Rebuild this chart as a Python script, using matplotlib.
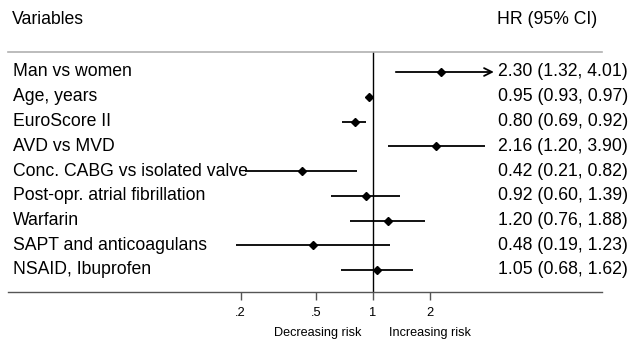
import numpy as np
import matplotlib
matplotlib.use("Agg")
import matplotlib.pyplot as plt

labels = ["Man vs women", "Age, years", "EuroScore II", "AVD vs MVD",
          "Conc. CABG vs isolated valve", "Post-opr. atrial fibrillation",
          "Warfarin", "SAPT and anticoagulans", "NSAID, Ibuprofen"]
hr = [2.30, 0.95, 0.80, 2.16, 0.42, 0.92, 1.20, 0.48, 1.05]
lo = [1.32, 0.93, 0.69, 1.20, 0.21, 0.60, 0.76, 0.19, 0.68]
hi = [4.01, 0.97, 0.92, 3.90, 0.82, 1.39, 1.88, 1.23, 1.62]
arrow_rows = [0]
arrow_limit = 4.35  # plotted range limit where truncated CIs get an arrow
xticks = [0.2, 0.5, 1, 2]
xticklabels = [".2", ".5", "1", "2"]

plt.rcParams['font.family'] = ['Liberation Sans', 'DejaVu Sans']

W, H = 630, 341
fig = plt.figure(figsize=(W / 100, H / 100), dpi=100)

# axes geometry in pixels
left_px, right_px = 8, 602
top_px, bot_px = 52, 292
ax = fig.add_axes([left_px / W, 1 - bot_px / H, (right_px - left_px) / W, (bot_px - top_px) / H])

px_per_ln = 82.2
x1_px = 373
xmin = np.exp((left_px - x1_px) / px_per_ln)
xmax = np.exp((right_px - x1_px) / px_per_ln)
ax.set_xscale('log')
ax.set_xlim(xmin, xmax)

row0_px, row_step = 72, 24.75
ymin = (top_px - row0_px) / row_step
ymax = (bot_px - row0_px) / row_step
ax.set_ylim(ymax, ymin)

n = len(labels)
ys = np.arange(n)
for i in range(n):
    if i in arrow_rows:
        ax.annotate("", xy=(arrow_limit, ys[i]), xytext=(lo[i], ys[i]),
                    arrowprops=dict(arrowstyle="->", color="black", lw=1.3,
                                    shrinkA=0, shrinkB=0, mutation_scale=14))
    else:
        ax.plot([lo[i], hi[i]], [ys[i], ys[i]], color="black", lw=1.3, solid_capstyle='butt')
ax.plot(hr, ys, linestyle='none', marker='D', color='black', markersize=4.2)

ax.axvline(1, color='black', lw=1.0)

for s in ['left', 'right']:
    ax.spines[s].set_visible(False)
ax.spines['top'].set_color('#b0b0b0')
ax.spines['top'].set_linewidth(1.2)
ax.spines['bottom'].set_color('#555555')
ax.spines['bottom'].set_linewidth(1.0)
ax.set_yticks([])
ax.set_xticks(xticks)
ax.set_xticklabels(xticklabels, fontsize=9.3)
ax.xaxis.set_minor_locator(matplotlib.ticker.NullLocator())
ax.tick_params(axis='x', length=6, width=1.0, color='#555555', pad=5)

# texts in pixel coordinates
def fx(px):
    return px / W
def fy(py):
    return 1 - py / H

fs = 12.7
fig.text(fx(12), fy(20), "Variables", fontsize=fs, va='center', ha='left')
fig.text(fx(597), fy(20), "HR (95% CI)", fontsize=fs, va='center', ha='right')
for i in range(n):
    yp = row0_px + row_step * i
    fig.text(fx(13), fy(yp), labels[i], fontsize=fs, va='center', ha='left')
    fig.text(fx(498), fy(yp), f"{hr[i]:.2f} ({lo[i]:.2f}, {hi[i]:.2f})",
             fontsize=fs, va='center', ha='left')

fig.text(fx(318), fy(333), "Decreasing risk", fontsize=9.1, va='center', ha='center')
fig.text(fx(430), fy(333), "Increasing risk", fontsize=9.1, va='center', ha='center')

fig.savefig("out.png", dpi=100, facecolor='white')
